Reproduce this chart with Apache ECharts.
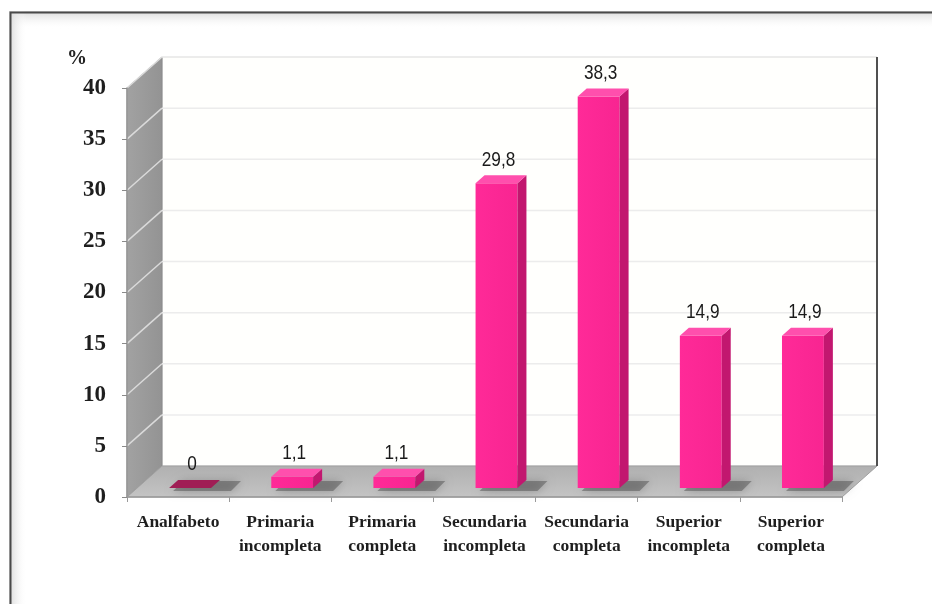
<!DOCTYPE html>
<html>
<head>
<meta charset="utf-8">
<script src="https://cdn.jsdelivr.net/npm/echarts@6/dist/echarts.min.js"></script>
<style>
  html, body { margin: 0; padding: 0; background: #fff; }
  #chart { width: 932px; height: 604px; }
</style>
</head>
<body>
<div id="chart"></div>
<script>
const categories = [
  'Analfabeto',
  'Primaria\nincompleta',
  'Primaria\ncompleta',
  'Secundaria\nincompleta',
  'Secundaria\ncompleta',
  'Superior\nincompleta',
  'Superior\ncompleta'
];
const values = [0, 1.1, 1.1, 29.8, 38.3, 14.9, 14.9];
const yTicks = [0, 5, 10, 15, 20, 25, 30, 35, 40];

// depth of the fake 3d box
const DX = 35, DY = -31;
// bars sit a bit back on the floor
const BAR_DX = 10, BAR_DY = -9, BAR_DEPTH_X = 9, BAR_DEPTH_Y = -8;

const chart = echarts.init(document.getElementById('chart'));

function renderWalls(params, api) {
  const bw = api.size([1, 0])[0];
  const first = api.coord([0, 0]);
  const last = api.coord([categories.length - 1, 0]);
  const xL = first[0] - bw / 2;
  const xR = last[0] + bw / 2;
  const y0 = first[1];
  const yTop = api.coord([0, yTicks[yTicks.length - 1]])[1];
  const children = [];
  // back wall
  children.push({
    type: 'rect',
    shape: { x: xL + DX, y: yTop + DY, width: xR - xL, height: y0 - yTop },
    style: { fill: '#fffffd', stroke: '#d4d4d4', lineWidth: 1 }
  });
  // side wall
  children.push({
    type: 'polygon',
    shape: { points: [[xL, yTop], [xL + DX, yTop + DY], [xL + DX, y0 + DY], [xL, y0]] },
    style: {
      fill: new echarts.graphic.LinearGradient(0, 0, 1, 0, [
        { offset: 0, color: '#a2a2a2' },
        { offset: 1, color: '#939393' }
      ]),
      stroke: '#8a8a8a', lineWidth: 1
    }
  });
  // gridlines
  yTicks.forEach(function (t) {
    if (t === 0) return;
    const y = api.coord([0, t])[1];
    children.push({
      type: 'line',
      shape: { x1: xL + DX, y1: y + DY, x2: xR + DX, y2: y + DY },
      style: { stroke: '#ececec', lineWidth: 1.5 }
    });
    children.push({
      type: 'line',
      shape: { x1: xL, y1: y, x2: xL + DX, y2: y + DY },
      style: { stroke: '#dadada', lineWidth: 1.5 }
    });
  });
  // floor
  children.push({
    type: 'polygon',
    shape: { points: [[xL, y0], [xL + DX, y0 + DY], [xR + DX, y0 + DY], [xR, y0]] },
    style: {
      fill: new echarts.graphic.LinearGradient(0, 0, 0, 1, [
        { offset: 0, color: '#b0b0b0' },
        { offset: 1, color: '#c4c4c4' }
      ]),
      stroke: '#a0a0a0', lineWidth: 1
    }
  });
  // right wall edge
  children.push({
    type: 'line',
    shape: { x1: xR + DX, y1: yTop + DY, x2: xR + DX, y2: y0 + DY },
    style: { stroke: '#505050', lineWidth: 2 }
  });
  return { type: 'group', children: children };
}

function renderBar(params, api) {
  const idx = api.value(0);
  const val = api.value(1);
  const bw = api.size([1, 0])[0];
  const top = api.coord([idx, val]);
  const base = api.coord([idx, 0]);
  const w = bw * 0.41;
  const x0 = base[0] - w / 2 + BAR_DX + 2;
  const x1 = x0 + w;
  const yb = base[1] + BAR_DY;
  const yt = top[1] + BAR_DY;
  const children = [];
  // shadow on the floor
  children.push({
    type: 'polygon',
    shape: { points: [[x0 + 4, yb + 3], [x1 + 20, yb + 3], [x1 + 30, yb - 7], [x0 + 14, yb - 7]] },
    style: { fill: 'rgba(70,70,70,0.45)', shadowBlur: 10, shadowColor: 'rgba(0,0,0,0.5)' }
  });
  if (val > 0) {
    children.push({
      type: 'rect',
      shape: { x: x0, y: yt, width: w, height: yb - yt },
      style: {
        fill: new echarts.graphic.LinearGradient(0, 0, 1, 0, [
          { offset: 0, color: '#ff2a98' },
          { offset: 1, color: '#f82591' }
        ])
      }
    });
    children.push({
      type: 'polygon',
      shape: { points: [[x1, yt], [x1 + BAR_DEPTH_X, yt + BAR_DEPTH_Y], [x1 + BAR_DEPTH_X, yb + BAR_DEPTH_Y], [x1, yb]] },
      style: { fill: '#c2176f' }
    });
  }
  children.push({
    type: 'polygon',
    shape: { points: [[x0, yt], [x0 + BAR_DEPTH_X, yt + BAR_DEPTH_Y], [x1 + BAR_DEPTH_X, yt + BAR_DEPTH_Y], [x1, yt]] },
    style: { fill: val > 0 ? '#ff4fad' : '#a01d55' }
  });
  children.push({
    type: 'text',
    x: (x0 + x1) / 2 + 2,
    y: yt - 13,
    scaleX: 0.82,
    style: {
      text: String(val).replace('.', ','),
      x: 0,
      y: 0,
      align: 'center',
      verticalAlign: 'bottom',
      fill: '#1a1a1a',
      font: '21px "Liberation Sans", sans-serif'
    }
  });
  return { type: 'group', children: children };
}

chart.setOption({
  animation: false,
  backgroundColor: '#fff',
  graphic: [
    {
      type: 'rect', left: 9, top: 11, z: -10,
      shape: { width: 1000, height: 18 },
      style: {
        fill: new echarts.graphic.LinearGradient(0, 0, 0, 1, [
          { offset: 0, color: '#d8d8d8' },
          { offset: 1, color: 'rgba(255,255,255,0)' }
        ])
      }
    },
    {
      type: 'rect', left: 9, top: 11, z: -10,
      shape: { width: 18, height: 700 },
      style: {
        fill: new echarts.graphic.LinearGradient(0, 0, 1, 0, [
          { offset: 0, color: '#d8d8d8' },
          { offset: 1, color: 'rgba(255,255,255,0)' }
        ])
      }
    },
    {
      type: 'rect', left: 8, top: 10, z: 10,
      shape: { width: 1000, height: 700 },
      style: { fill: 'none', stroke: '#4a4a4a', lineWidth: 2 }
    },
    {
      type: 'text', left: 67, top: 49,
      style: { text: '%', fill: '#222', font: 'bold 20px "Liberation Serif", serif' }
    }
  ],
  grid: { left: 127, right: 90, top: 88, bottom: 107 },
  xAxis: {
    type: 'category',
    data: categories,
    axisLine: { show: true, lineStyle: { color: '#9a9a9a', width: 1.5 } },
    axisTick: { show: true, length: 5, lineStyle: { color: '#9a9a9a' } },
    axisLabel: {
      margin: 13,
      interval: 0,
      color: '#1e1e1e',
      fontFamily: 'Liberation Serif',
      fontWeight: 'bold',
      fontSize: 17.5,
      lineHeight: 24
    },
    z: 5
  },
  yAxis: {
    type: 'value',
    min: 0,
    max: 40,
    interval: 5,
    axisLine: { show: true, lineStyle: { color: '#9a9a9a', width: 1.5 } },
    axisTick: { show: true, length: 5, lineStyle: { color: '#8a8a8a' } },
    splitLine: { show: false },
    axisLabel: {
      margin: 21,
      color: '#1e1e1e',
      fontFamily: 'Liberation Serif',
      fontWeight: 'bold',
      fontSize: 23
    },
    z: 5
  },
  series: [
    {
      type: 'custom',
      name: 'walls',
      renderItem: renderWalls,
      data: [[0, 0]],
      clip: false,
      silent: true,
      z: 1
    },
    {
      type: 'custom',
      name: 'bars',
      renderItem: renderBar,
      data: values.map(function (v, i) { return [i, v]; }),
      clip: false,
      z: 3
    }
  ]
});
</script>
</body>
</html>
